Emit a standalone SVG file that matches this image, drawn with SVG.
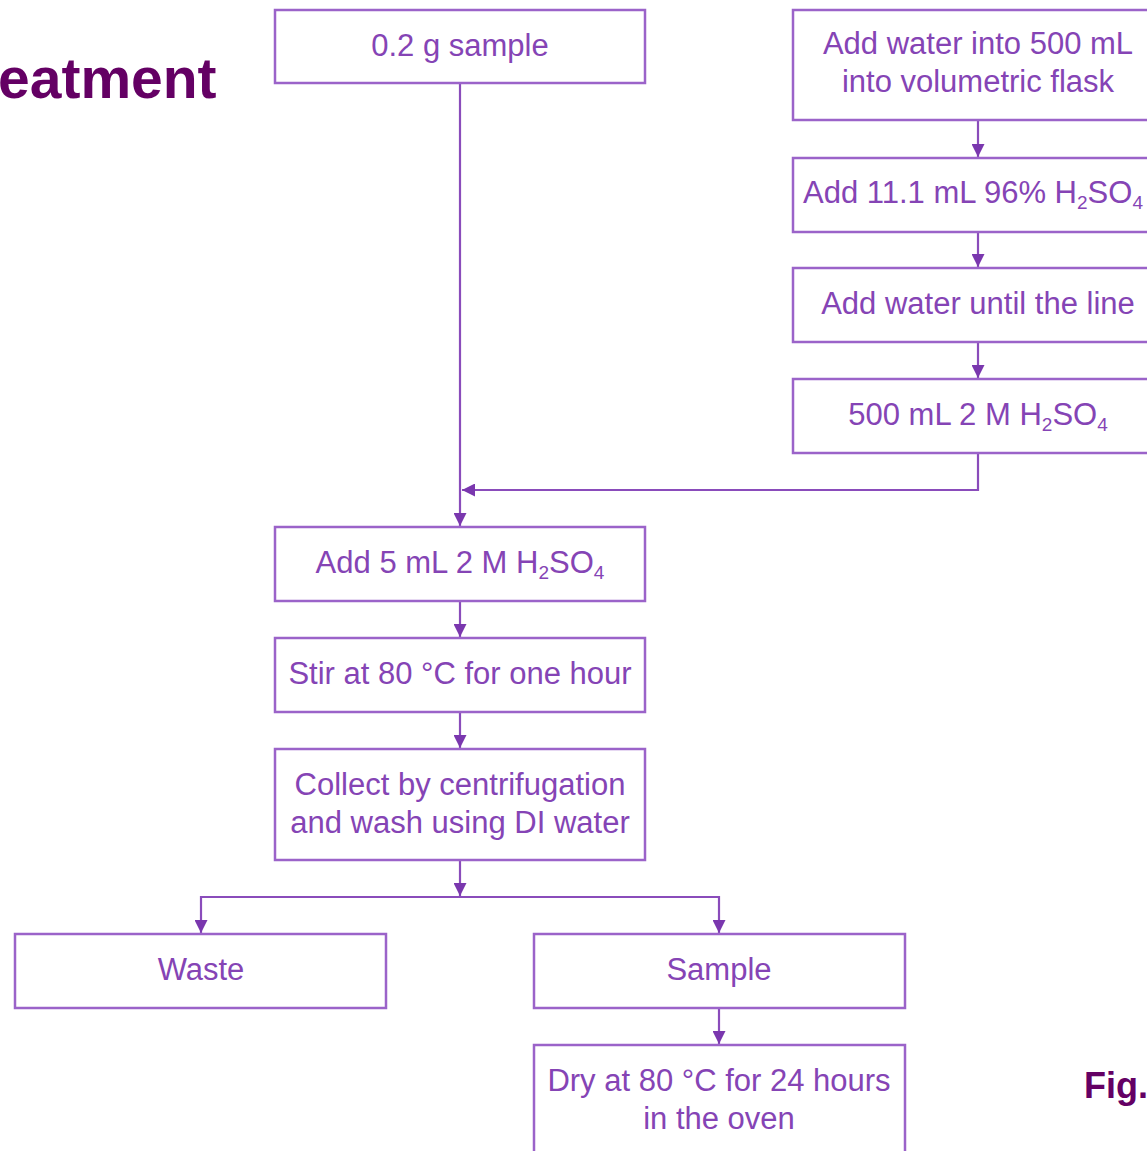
<svg xmlns="http://www.w3.org/2000/svg" width="1147" height="1151" viewBox="0 0 1147 1151">
  <style>
    .box { fill: #ffffff; stroke: #9b63c9; stroke-width: 2.5; }
    .lbl { font-family: "Liberation Sans", Arial, sans-serif; font-size: 31px; fill: #8544b5; text-anchor: middle; }
    .sub { font-size: 19px; }
    .wire { fill: none; stroke: #8a4cbb; stroke-width: 2.2; }
    .head { font-family: "Liberation Sans", Arial, sans-serif; font-weight: bold; fill: #640064; }
  </style>
  <defs>
    <marker id="arrow" viewBox="0 0 12 12" refX="12" refY="6" markerWidth="13" markerHeight="13" markerUnits="userSpaceOnUse" orient="auto">
      <path d="M0,0 L12,6 L0,12 Z" fill="#7a37ae"/>
    </marker>
  </defs>

  <rect width="1147" height="1151" fill="#ffffff"/>

  <!-- heading fragments -->
  <text class="head" x="-2" y="98" font-size="57">eatment</text>
  <text class="head" x="1084" y="1098" font-size="36">Fig.</text>

  <!-- connectors -->
  <g id="connectors">
    <path class="wire" d="M460,83 V526" marker-end="url(#arrow)"/>
    <path class="wire" d="M978,453 V490 H462" marker-end="url(#arrow)"/>
    <path class="wire" d="M978,120 V157" marker-end="url(#arrow)"/>
    <path class="wire" d="M978,232 V267" marker-end="url(#arrow)"/>
    <path class="wire" d="M978,342 V378" marker-end="url(#arrow)"/>
    <path class="wire" d="M460,601 V637" marker-end="url(#arrow)"/>
    <path class="wire" d="M460,712 V748" marker-end="url(#arrow)"/>
    <path class="wire" d="M460,860 V896" marker-end="url(#arrow)"/>
    <path class="wire" d="M460,897 H201 V933" marker-end="url(#arrow)"/>
    <path class="wire" d="M460,897 H719 V933" marker-end="url(#arrow)"/>
    <path class="wire" d="M719,1008 V1044" marker-end="url(#arrow)"/>
  </g>

  <!-- left column -->
  <g id="sample-in">
    <rect class="box" x="275" y="10" width="370" height="73"/>
    <text class="lbl" x="460" y="56">0.2 g sample</text>
  </g>
  <g id="add-acid">
    <rect class="box" x="275" y="527" width="370" height="74"/>
    <text class="lbl" x="460" y="573">Add 5 mL 2 M H<tspan class="sub" dy="6">2</tspan><tspan dy="-6">SO</tspan><tspan class="sub" dy="6">4</tspan></text>
  </g>
  <g id="stir">
    <rect class="box" x="275" y="638" width="370" height="74"/>
    <text class="lbl" x="460" y="684">Stir at 80 °C for one hour</text>
  </g>
  <g id="collect">
    <rect class="box" x="275" y="749" width="370" height="111"/>
    <text class="lbl" x="460" y="795">Collect by centrifugation</text>
    <text class="lbl" x="460" y="833">and wash using DI water</text>
  </g>
  <g id="waste">
    <rect class="box" x="15" y="934" width="371" height="74"/>
    <text class="lbl" x="201" y="980">Waste</text>
  </g>
  <g id="sample-out">
    <rect class="box" x="534" y="934" width="371" height="74"/>
    <text class="lbl" x="719" y="980">Sample</text>
  </g>
  <g id="dry">
    <rect class="box" x="534" y="1045" width="371" height="120"/>
    <text class="lbl" x="719" y="1091">Dry at 80 °C for 24 hours</text>
    <text class="lbl" x="719" y="1129">in the oven</text>
  </g>

  <!-- right column: acid preparation -->
  <g id="water-flask">
    <rect class="box" x="793" y="10" width="370" height="110"/>
    <text class="lbl" x="978" y="54">Add water into 500 mL</text>
    <text class="lbl" x="978" y="92">into volumetric flask</text>
  </g>
  <g id="add-conc">
    <rect class="box" x="793" y="158" width="370" height="74"/>
    <text class="lbl" x="803" y="203" style="text-anchor:start">Add 11.1 mL 96% H<tspan class="sub" dy="6">2</tspan><tspan dy="-6">SO</tspan><tspan class="sub" dy="6">4</tspan></text>
  </g>
  <g id="fill-line">
    <rect class="box" x="793" y="268" width="370" height="74"/>
    <text class="lbl" x="978" y="314">Add water until the line</text>
  </g>
  <g id="stock">
    <rect class="box" x="793" y="379" width="370" height="74"/>
    <text class="lbl" x="978" y="425">500 mL 2 M H<tspan class="sub" dy="6">2</tspan><tspan dy="-6">SO</tspan><tspan class="sub" dy="6">4</tspan></text>
  </g>
</svg>
